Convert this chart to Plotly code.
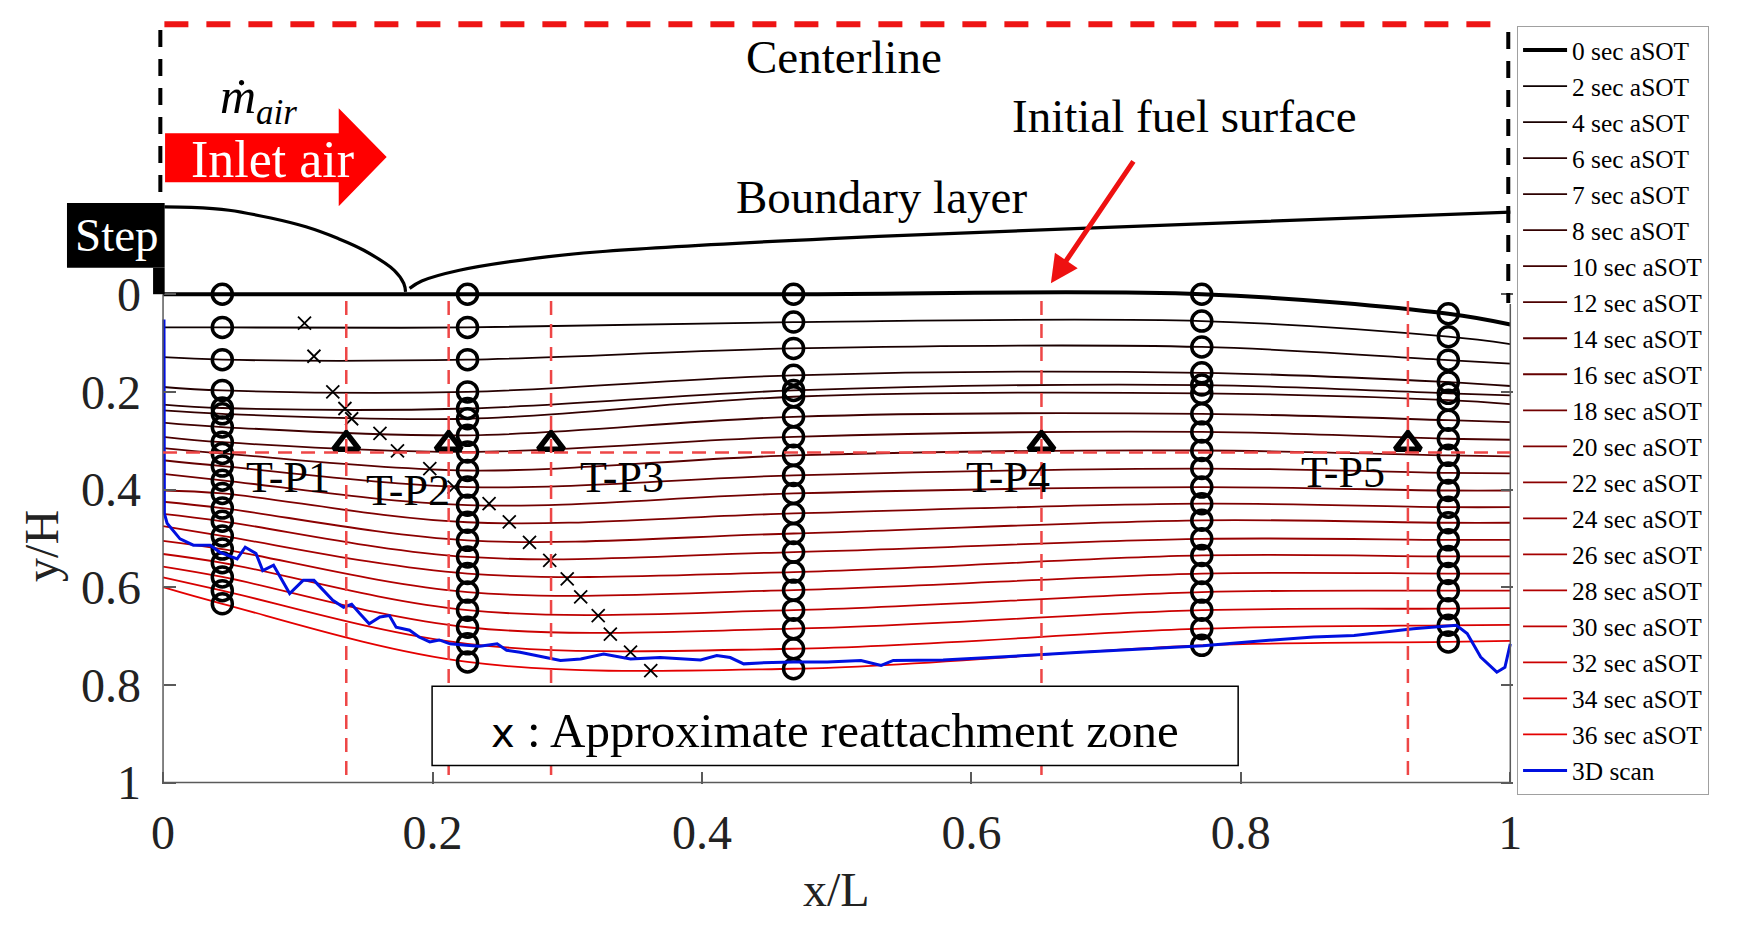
import plotly.graph_objects as go

FONT = "Liberation Serif"

# x/L of the measurement columns (circles) plus the two ends of the grain
x_cols = [0.0, 0.044, 0.226, 0.468, 0.771, 0.954, 1.0]

times = [0, 2, 4, 6, 7, 8, 10, 12, 14, 16, 18, 20, 22, 24, 26, 28, 30, 32, 34, 36]

# y/H of every surface line at each x in x_cols
y_x0 = [0.0, 0.068, 0.129, 0.190, 0.226, 0.238, 0.263, 0.292, 0.315, 0.340,
        0.368, 0.402, 0.425, 0.450, 0.475, 0.505, 0.532, 0.558, 0.580, 0.600]
y_c1 = [0.0, 0.068, 0.134, 0.197, 0.233, 0.245, 0.272, 0.303, 0.326, 0.352,
        0.381, 0.408, 0.438, 0.465, 0.495, 0.522, 0.550, 0.579, 0.607, 0.634]
y_c2 = [0.0, 0.068, 0.134, 0.200, 0.234, 0.255, 0.289, 0.323, 0.361, 0.395,
        0.432, 0.467, 0.504, 0.538, 0.572, 0.610, 0.647, 0.682, 0.716, 0.753]
y_c3 = [0.0, 0.057, 0.111, 0.166, 0.197, 0.210, 0.251, 0.292, 0.330, 0.371,
        0.408, 0.449, 0.490, 0.528, 0.569, 0.606, 0.647, 0.685, 0.726, 0.767]
y_c4 = [0.0, 0.055, 0.108, 0.161, 0.186, 0.203, 0.245, 0.282, 0.320, 0.357,
        0.395, 0.429, 0.463, 0.501, 0.535, 0.572, 0.610, 0.647, 0.685, 0.719]
y_c5 = [0.040, 0.087, 0.135, 0.180, 0.203, 0.217, 0.258, 0.296, 0.330, 0.366,
        0.402, 0.436, 0.468, 0.503, 0.537, 0.572, 0.607, 0.644, 0.678, 0.712]
y_x1 = [0.062, 0.102, 0.142, 0.188, 0.207, 0.225, 0.262, 0.298, 0.332, 0.367,
        0.402, 0.436, 0.468, 0.503, 0.537, 0.572, 0.607, 0.643, 0.677, 0.710]

# 3D scan of the burnt grain
scan_x = [0.0007, 0.001, 0.003, 0.0126, 0.0225, 0.035, 0.042, 0.055, 0.061, 0.069,
          0.074, 0.082, 0.094, 0.104, 0.112, 0.119, 0.126, 0.134, 0.140, 0.146,
          0.153, 0.161, 0.168, 0.173, 0.183, 0.190, 0.198, 0.205, 0.213, 0.225,
          0.235, 0.248, 0.255, 0.265, 0.295, 0.310, 0.327, 0.347, 0.369, 0.399,
          0.411, 0.421, 0.431, 0.443, 0.468, 0.493, 0.518, 0.533, 0.542, 0.579,
          0.617, 0.653, 0.681, 0.730, 0.772, 0.805, 0.854, 0.884, 0.928, 0.960,
          0.968, 0.978, 0.990, 0.996, 1.0]
scan_y = [0.052, 0.449, 0.469, 0.501, 0.514, 0.514, 0.528, 0.542, 0.518, 0.531,
          0.566, 0.555, 0.613, 0.586, 0.586, 0.607, 0.627, 0.641, 0.635, 0.654,
          0.675, 0.661, 0.658, 0.682, 0.688, 0.702, 0.712, 0.708, 0.716, 0.719,
          0.721, 0.716, 0.729, 0.733, 0.750, 0.747, 0.737, 0.747, 0.744, 0.749,
          0.740, 0.744, 0.757, 0.755, 0.753, 0.753, 0.750, 0.760, 0.750, 0.749,
          0.744, 0.738, 0.733, 0.726, 0.720, 0.712, 0.702, 0.699, 0.685, 0.678,
          0.695, 0.743, 0.774, 0.764, 0.716]

# approximate reattachment points
reat_x = [0.105, 0.112, 0.126, 0.135, 0.140, 0.161, 0.174, 0.198, 0.216, 0.242,
          0.257, 0.272, 0.287, 0.300, 0.310, 0.323, 0.332, 0.347, 0.362]
reat_y = [0.059, 0.127, 0.200, 0.234, 0.255, 0.285, 0.321, 0.357, 0.395, 0.429,
          0.466, 0.508, 0.545, 0.583, 0.620, 0.658, 0.696, 0.733, 0.771]

# thermocouple ports
tp_names = ["T-P1", "T-P2", "T-P3", "T-P4", "T-P5"]
tp_x = [0.136, 0.212, 0.288, 0.652, 0.924]
tp_y = [0.306, 0.306, 0.306, 0.306, 0.306]
tp_label_x = [0.093, 0.182, 0.341, 0.627, 0.876]
tp_label_y = [0.375, 0.402, 0.375, 0.375, 0.365]
tp_depth = 0.324

# boundary layer sketch (recirculation bubble + developing layer)
bl1_x = [0.001, 0.021, 0.049, 0.080, 0.106, 0.130, 0.149, 0.1716, 0.1787, 0.180]
bl1_y = [-0.179, -0.178, -0.172, -0.156, -0.138, -0.114, -0.090, -0.049, -0.022, -0.005]
bl2_x = [0.183, 0.192, 0.220, 0.277, 0.324, 0.495, 0.691, 1.0]
bl2_y = [-0.012, -0.027, -0.049, -0.074, -0.087, -0.114, -0.136, -0.168]

tick_vals = [0, 0.2, 0.4, 0.6, 0.8, 1]
tick_text = ["0", "0.2", "0.4", "0.6", "0.8", "1"]

X_RANGE = [-0.075, 1.002]
Y_RANGE = [1.003, -0.58]
AX = "#5a5a5a"
RED_DASH = "#ee4646"


def line_color(t):
    return "rgb(%d,0,0)" % round(228 * t / 36)


fig = go.Figure()

columns = [y_x0, y_c1, y_c2, y_c3, y_c4, y_c5, y_x1]
for i, t in enumerate(times):
    ys = [col[i] for col in columns]
    fig.add_trace(go.Scatter(
        x=x_cols, y=ys, mode="lines", name="%d sec aSOT" % t,
        line=dict(color=line_color(t), width=4 if t == 0 else 1.8, shape="spline"),
    ))

for bx, by in [(bl1_x, bl1_y), (bl2_x, bl2_y)]:
    fig.add_trace(go.Scatter(
        x=bx, y=by, mode="lines", showlegend=False,
        line=dict(color="black", width=3.2, shape="spline"),
    ))

# circles at the measurement columns
for j, col in enumerate(columns[1:6]):
    fig.add_trace(go.Scatter(
        x=[x_cols[j + 1]] * len(col), y=col, mode="markers", showlegend=False,
        marker=dict(symbol="circle-open", size=20, color="black", line=dict(width=3.5, color="black")),
    ))

fig.add_trace(go.Scatter(
    x=reat_x, y=reat_y, mode="markers", showlegend=False,
    marker=dict(symbol="x-thin", size=13, color="black", line=dict(width=1.8, color="black")),
))

fig.add_trace(go.Scatter(
    x=tp_x, y=tp_y, mode="markers", showlegend=False,
    marker=dict(symbol="triangle-up-open", size=22, color="black", line=dict(width=5.5, color="black")),
))

fig.add_trace(go.Scatter(
    x=scan_x, y=scan_y, mode="lines", name="3D scan",
    line=dict(color="#0010e0", width=3),
))

# dummy trace so the mirrored right axis gets drawn
fig.add_trace(go.Scatter(x=[], y=[], yaxis="y2", showlegend=False, hoverinfo="skip"))

shapes = []
# axis box (only below the fuel surface)
shapes.append(dict(type="line", x0=0, x1=0, y0=0, y1=1.0, line=dict(color=AX, width=1.5)))
shapes.append(dict(type="line", x0=0, x1=1.0, y0=1.0, y1=1.0, line=dict(color=AX, width=1.5)))
shapes.append(dict(type="line", x0=1.0, x1=1.0, y0=0.02, y1=1.0, line=dict(color=AX, width=1.5)))

# thermocouple port depth and positions
shapes.append(dict(type="line", x0=0, x1=1.0, y0=tp_depth, y1=tp_depth,
                   line=dict(color=RED_DASH, width=2.5, dash="14px,9px")))
for xp in tp_x:
    shapes.append(dict(type="line", x0=xp, x1=xp, y0=0.014, y1=1.0,
                       line=dict(color=RED_DASH, width=2.5, dash="14px,9px")))

# centerline and symmetry boundaries
shapes.append(dict(type="line", x0=0.001, x1=0.996, y0=-0.553, y1=-0.553,
                   line=dict(color="#ee1414", width=6, dash="24px,18px")))
shapes.append(dict(type="line", x0=-0.002, x1=-0.002, y0=-0.541, y1=-0.187,
                   line=dict(color="black", width=4, dash="17px,12px")))
shapes.append(dict(type="line", x0=0.9985, x1=0.9985, y0=-0.537, y1=0.018,
                   line=dict(color="black", width=4, dash="17px,12px")))

# backward-facing step
shapes.append(dict(type="rect", x0=-0.0713, x1=0.0012, y0=-0.187, y1=-0.054,
                   fillcolor="black", line=dict(width=0)))
shapes.append(dict(type="rect", x0=-0.0074, x1=0.0012, y0=-0.054, y1=0.0,
                   fillcolor="black", line=dict(width=0)))

# inlet air arrow
shapes.append(dict(
    type="path",
    path="M 0.0015,-0.3295 L 0.1304,-0.3295 L 0.1304,-0.381 L 0.166,-0.281 "
         "L 0.1304,-0.180 L 0.1304,-0.2295 L 0.0015,-0.2295 Z",
    fillcolor="#ff0000", line=dict(width=0),
))

# reattachment legend box
shapes.append(dict(type="rect", x0=0.1997, x1=0.798, y0=0.803, y1=0.965,
                   fillcolor="white", line=dict(color="black", width=1.5)))

annotations = []


def text(x, y, s, size=47, color="black", **kw):
    annotations.append(dict(x=x, y=y, text=s, showarrow=False, xanchor="center", yanchor="middle",
                            font=dict(family=FONT, size=size, color=color), **kw))


text(0.5056, -0.486, "Centerline")
text(0.533, -0.200, "Boundary layer")
text(0.758, -0.366, "Initial fuel surface")
text(0.081, -0.275, "Inlet air", size=52, color="white")
text(-0.0344, -0.122, "Step", color="white")
text(0.071, -0.398, "<i>ṁ</i><sub><i>air</i></sub>", size=50)
for name, lx, ly in zip(tp_names, tp_label_x, tp_label_y):
    text(lx, ly, name, size=44)
text(0.499, 0.893, "<span style='font-family:DejaVu Sans;font-size:40px'>x</span> : Approximate reattachment zone",
     size=49)

annotations.append(dict(
    x=0.659, y=-0.0225, ax=0.721, ay=-0.275, axref="x", ayref="y",
    showarrow=True, arrowhead=2, arrowsize=1.1, arrowwidth=5, arrowcolor="#ee1111", text="",
))

annotations.append(dict(x=0.5, y=-0.137, xref="x", yref="paper", text="x/L", showarrow=False,
                        xanchor="center", yanchor="middle",
                        font=dict(family=FONT, size=48, color="#222")))
annotations.append(dict(x=-0.0138, y=0.308, xref="paper", yref="paper", text="y/H", textangle=-90,
                        showarrow=False, xanchor="center", yanchor="middle",
                        font=dict(family=FONT, size=48, color="#222")))

fig.update_layout(
    width=1741, height=925,
    margin=dict(l=62, r=228, t=11, b=141),
    paper_bgcolor="white", plot_bgcolor="white",
    font=dict(family=FONT, color="black"),
    shapes=shapes, annotations=annotations,
    xaxis=dict(range=X_RANGE, tickvals=tick_vals, ticktext=tick_text, ticks="inside",
               ticklen=12, tickwidth=1.5, tickcolor=AX, showgrid=False, zeroline=False,
               showline=False, tickfont=dict(family=FONT, size=48, color="#222"),
               ticklabelstandoff=16),
    yaxis=dict(range=Y_RANGE, anchor="free", position=0.075 / 1.077, tickvals=tick_vals,
               ticktext=tick_text, ticks="inside", ticklen=12, tickwidth=1.5, tickcolor=AX,
               showgrid=False, zeroline=False, showline=False,
               tickfont=dict(family=FONT, size=48, color="#222"), ticklabelstandoff=22),
    yaxis2=dict(range=Y_RANGE, overlaying="y", side="right", anchor="x", tickvals=tick_vals,
                ticks="inside", ticklen=12, tickwidth=1.5, tickcolor=AX, showticklabels=False,
                showgrid=False, zeroline=False, showline=False),
    legend=dict(x=1.0028, y=0.9805, xanchor="left", yanchor="top", bgcolor="white",
                bordercolor="#a0a0a0", borderwidth=1, font=dict(family=FONT, size=25.4),
                tracegroupgap=0, itemwidth=44),
    showlegend=True,
)

fig.write_html("out.html", config={"displayModeBar": False},
               post_script="document.body.style.margin='0px';")
